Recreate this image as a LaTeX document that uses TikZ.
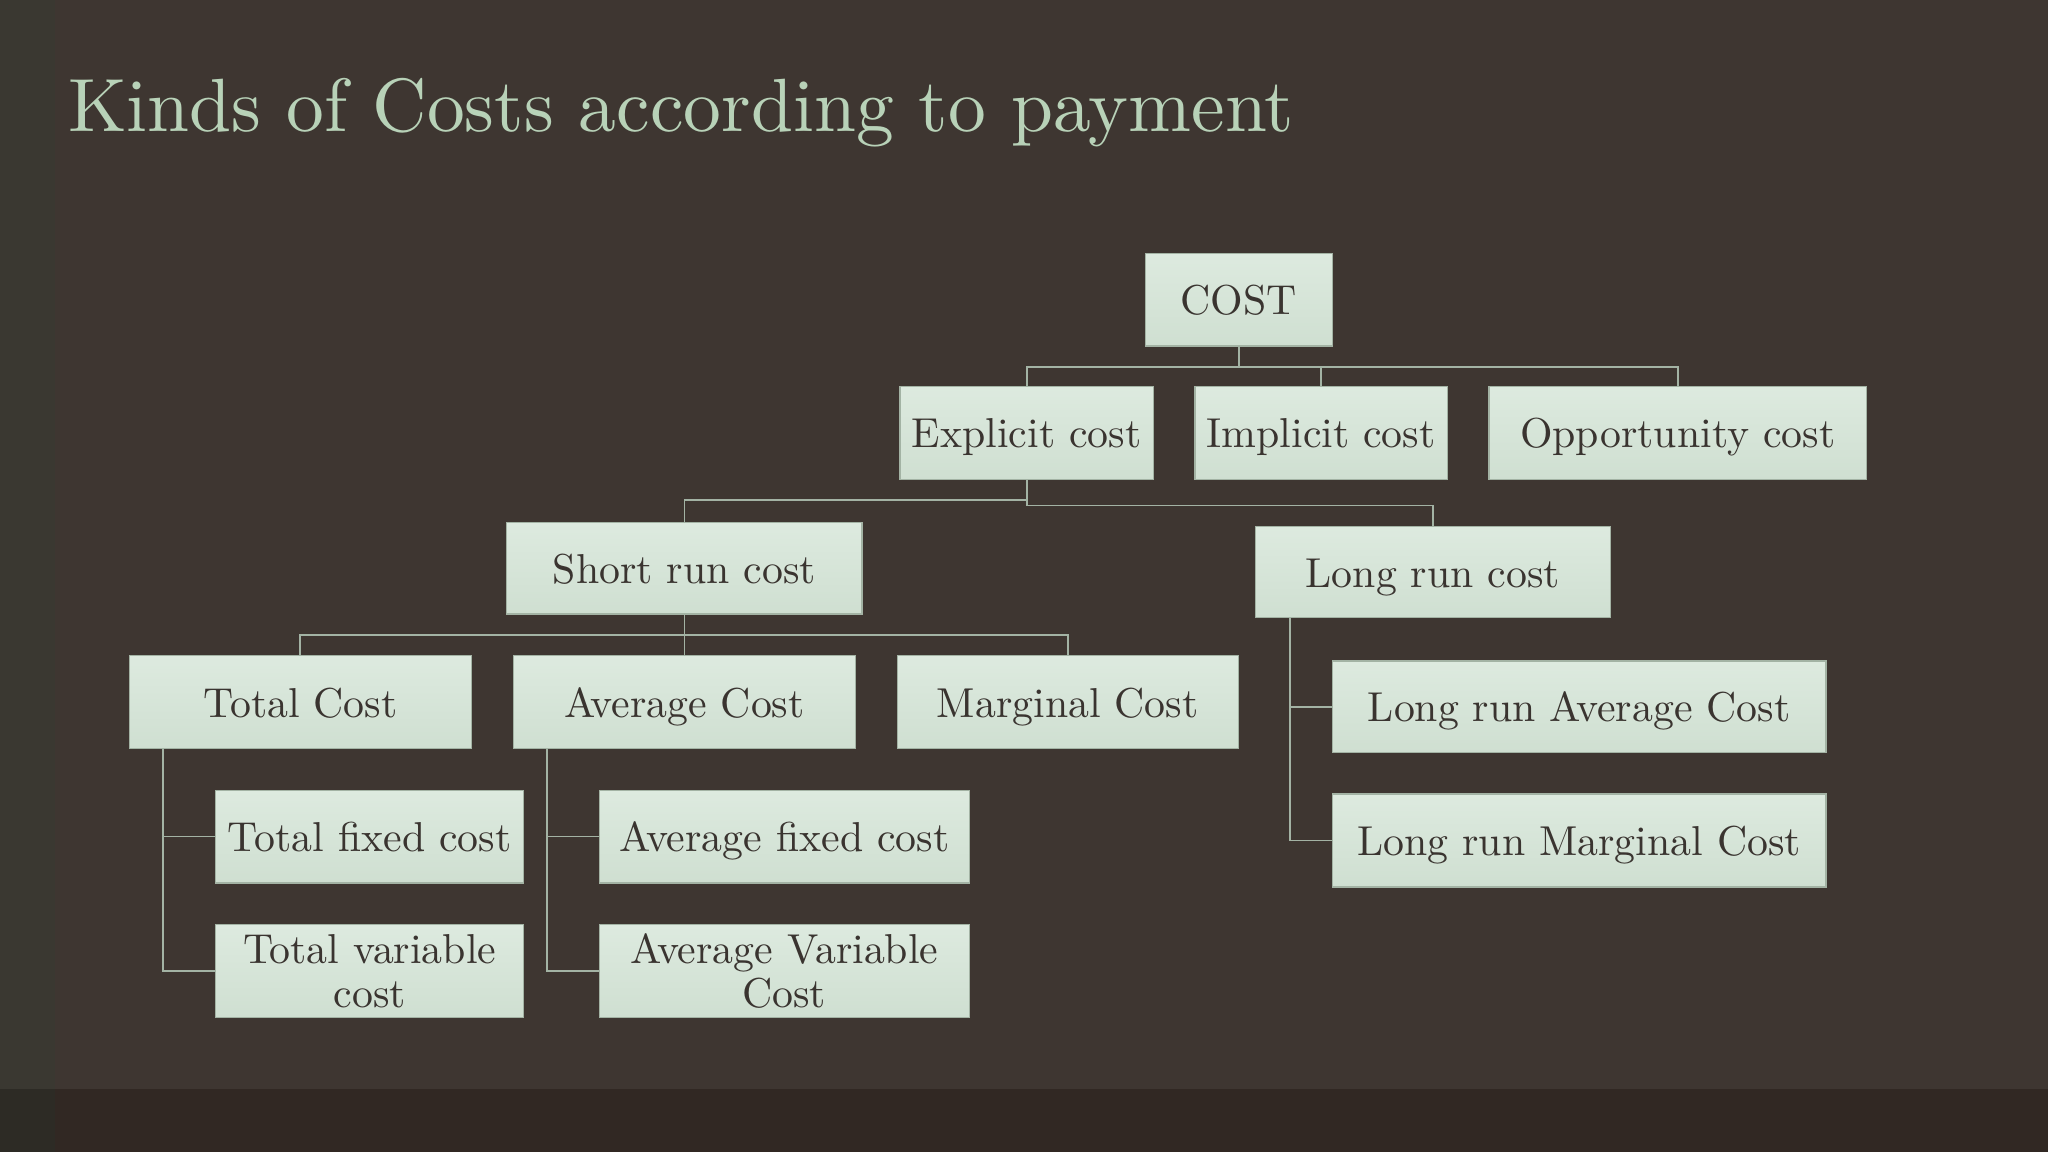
\documentclass[tikz,border=0pt]{standalone}
\usepackage{fontspec}
\setmainfont{lmroman10-regular.otf}
\definecolor{bg}{HTML}{3E3631}
\definecolor{band}{HTML}{312823}
\definecolor{stripA}{HTML}{3A3831}
\definecolor{stripB}{HTML}{2D2B25}
\definecolor{boxtop}{HTML}{DDEADF}
\definecolor{boxbot}{HTML}{CFDFD1}
\definecolor{boxline}{HTML}{A3B3A4}
\definecolor{txt}{HTML}{3A3430}
\definecolor{ttl}{HTML}{B8D2B8}
\definecolor{conn}{HTML}{A3B3A4}
\tikzset{
  box/.style={draw=boxline, line width=1pt, top color=boxtop, bottom color=boxbot,
    text=txt, font=\fontsize{32}{33}\selectfont, inner sep=0pt, align=center,
    text height=24pt, text depth=1pt},
  twoline/.style={text height=56pt, text depth=1pt},
  link/.style={draw=conn, line width=1.4pt}
}
\begin{document}
\begin{tikzpicture}[x=1pt,y=-1pt]
\fill[bg] (0,0) rectangle (1568,882);
\useasboundingbox (0,0) rectangle (1568,882);
\fill[stripA] (0,0) rectangle (42,834);
\fill[band] (0,834) rectangle (1568,882);
\fill[stripB] (0,834) rectangle (42,882);
\node[anchor=base west, text=ttl, font=\fontsize{57.8}{60}\selectfont, inner sep=0pt] (title) at (52,101) {Kinds of Costs according to payment};

\node[box, minimum width=143, minimum height=71] (cost) at (948.5,229.5) {COST};
\node[box, minimum width=194, minimum height=71] (explicit) at (786,331.5) {Explicit cost};
\node[box, minimum width=193, minimum height=71] (implicit) at (1011.5,331.5) {Implicit cost};
\node[box, minimum width=289, minimum height=71] (opp) at (1284.5,331.5) {Opportunity cost};
\node[box, minimum width=272, minimum height=70] (short) at (524,435) {Short run cost};
\node[box, minimum width=272, minimum height=70] (long) at (1097,438) {Long run cost};
\node[box, minimum width=262, minimum height=71] (total) at (230,537.5) {Total Cost};
\node[box, minimum width=262, minimum height=71] (avg) at (524,537.5) {Average Cost};
\node[box, minimum width=261, minimum height=71] (marg) at (817.5,537.5) {Marginal Cost};
\node[box, minimum width=236, minimum height=71] (tfc) at (283,640.5) {Total fixed cost};
\node[box, twoline, minimum width=236, minimum height=71] (tvc) at (283,743.5) {Total variable\\cost};
\node[box, minimum width=283, minimum height=71] (afc) at (600.5,640.5) {Average fixed cost};
\node[box, twoline, minimum width=283, minimum height=71] (avc) at (600.5,743.5) {Average Variable\\Cost};
\node[box, minimum width=378, minimum height=70] (lac) at (1209,541) {Long run Average Cost};
\node[box, minimum width=378, minimum height=71] (lmc) at (1209,643.5) {Long run Marginal Cost};

\coordinate (j1) at (948.5,281);
\draw[link] (cost.south) -- (j1) -| (explicit.north);
\draw[link] (j1) -| (implicit.north);
\draw[link] (j1) -| (opp.north);

\coordinate (j2) at (786,383);
\coordinate (j3) at (786,387);
\draw[link] (explicit.south) -- (j2) -| (short.north);
\draw[link] (j2) -- (j3) -| (long.north);

\coordinate (j4) at (524,486);
\draw[link] (short.south) -- (j4) -| (total.north);
\draw[link] (j4) -| (avg.north);
\draw[link] (j4) -| (marg.north);

\coordinate (tc) at ([xshift=26pt]total.south west);
\draw[link] (tc) |- (tfc.west);
\draw[link] (tc) |- (tvc.west);
\coordinate (ac) at ([xshift=26pt]avg.south west);
\draw[link] (ac) |- (afc.west);
\draw[link] (ac) |- (avc.west);
\coordinate (lc) at ([xshift=27pt]long.south west);
\draw[link] (lc) |- (lac.west);
\draw[link] (lc) |- (lmc.west);
\end{tikzpicture}
\end{document}
